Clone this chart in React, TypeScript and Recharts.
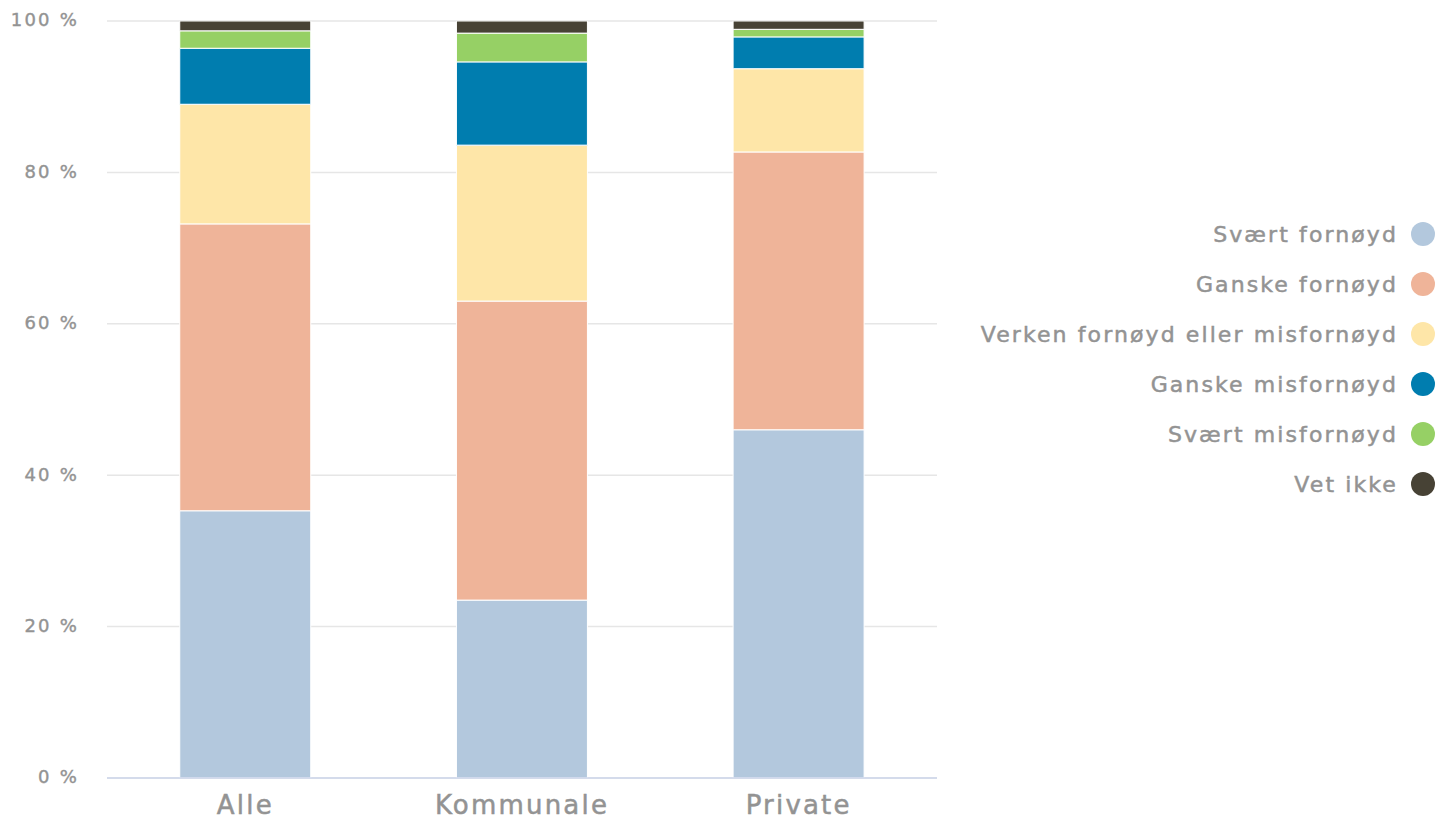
import React from 'react';
import { BarChart, Bar, XAxis, YAxis, CartesianGrid } from 'recharts';

const categories = ['Alle', 'Kommunale', 'Private'];
const seriesNames = [
  'Svært fornøyd',
  'Ganske fornøyd',
  'Verken fornøyd eller misfornøyd',
  'Ganske misfornøyd',
  'Svært misfornøyd',
  'Vet ikke',
];
const seriesColors = ['#b3c8dd', '#efb499', '#fee6a8', '#007daf', '#96d065', '#474235'];
const svaertFornoyd = [35.3, 23.5, 46.0];
const ganskeFornoyd = [37.9, 39.5, 36.7];
const verken = [15.8, 20.6, 11.0];
const ganskeMisfornoyd = [7.4, 11.0, 4.2];
const svaertMisfornoyd = [2.3, 3.8, 1.0];
const vetIkke = [1.3, 1.6, 1.1];
const yTicks = [0, 20, 40, 60, 80, 100];

const seriesValues = [svaertFornoyd, ganskeFornoyd, verken, ganskeMisfornoyd, svaertMisfornoyd, vetIkke];
const data = categories.map((c, i) => {
  const row: Record<string, any> = { name: c };
  seriesNames.forEach((s, j) => {
    row['s' + j] = seriesValues[j][i];
  });
  return row;
});

const FONT = '"DejaVu Sans", sans-serif';
const TEXT = '#939393';

export default function App() {
  return (
    <div style={{ position: 'absolute', left: 0, top: 0, width: 1437, height: 819, background: '#fff', fontFamily: FONT }}>
      <BarChart
        width={1437}
        height={819}
        data={data}
        margin={{ top: 21, right: 500, left: 0, bottom: 0 }}
        barCategoryGap="26.3%"
      >
        <CartesianGrid vertical={false} stroke="#e6e6e6" strokeWidth={1.5} />
        <XAxis
          dataKey="name"
          height={41}
          axisLine={{ stroke: '#ccd6eb', strokeWidth: 1.5 }}
          tickLine={false}
          tick={{ fill: TEXT, stroke: TEXT, strokeWidth: 0.5, fontSize: 26, fontFamily: FONT, letterSpacing: 2.2 }}
          tickMargin={12}
        />
        <YAxis
          width={107}
          domain={[0, 100]}
          ticks={yTicks}
          allowDataOverflow
          axisLine={false}
          tickLine={false}
          tickFormatter={(v: number) => `${v} %`}
          tick={{ fill: TEXT, stroke: TEXT, strokeWidth: 0.4, fontSize: 18, fontFamily: FONT, letterSpacing: 2.2, dx: -20, dy: -1 }}
        />
        {seriesNames.map((s, j) => (
          <Bar
            key={s}
            dataKey={'s' + j}
            name={s}
            stackId="a"
            fill={seriesColors[j]}
            stroke="#ffffff"
            strokeWidth={1}
            isAnimationActive={false}
          />
        ))}
      </BarChart>
      <div style={{ position: 'absolute', right: 0, top: 209, width: 500 }}>
        {seriesNames.map((s, j) => (
          <div
            key={s}
            style={{ display: 'flex', justifyContent: 'flex-end', alignItems: 'center', height: 50, paddingRight: 2 }}
          >
            <span
              style={{
                color: TEXT,
                fontSize: 22,
                letterSpacing: 2.1,
                marginRight: 13,
                fontFamily: FONT,
                WebkitTextStroke: '0.5px ' + TEXT,
              }}
            >
              {s}
            </span>
            <span style={{ width: 24, height: 24, borderRadius: '50%', background: seriesColors[j], display: 'inline-block', flexShrink: 0 }} />
          </div>
        ))}
      </div>
    </div>
  );
}
